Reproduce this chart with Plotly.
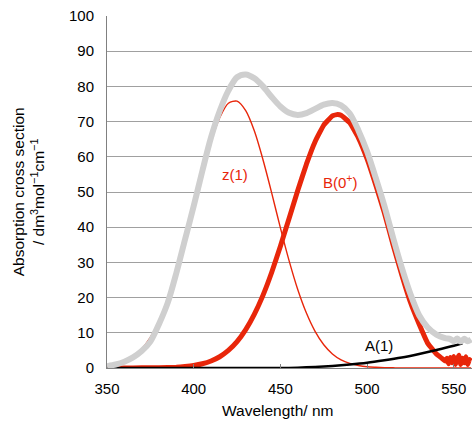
import plotly.graph_objects as go

# ---- data ----
z_wl = [350, 355, 360, 365, 370, 375, 380, 385, 390, 395, 400, 405, 410, 415, 420, 425,
        430, 435, 440, 445, 450, 455, 460, 465, 470, 475, 480, 485, 490, 495, 500, 505,
        510, 515, 520, 560]
z_val = [0.5, 1.0, 1.9, 3.3, 5.4, 8.7, 13.3, 19.4, 27.1, 36.0, 45.7, 55.5, 64.3, 71.1, 75.2, 75.8,
         73.1, 67.3, 59.1, 49.7, 39.8, 30.5, 22.3, 15.6, 10.4, 6.6, 4.0, 2.3, 1.3, 0.7, 0.35, 0.2,
         0.1, 0.05, 0, 0]

b_wl = [350, 360, 370, 380, 390, 395, 400, 405, 410, 415, 420, 425, 430, 435, 440, 445,
        450, 455, 460, 465, 470, 475, 480, 483, 485, 490, 495, 500, 505, 510, 515, 520,
        525, 530, 535, 540, 543, 545, 546, 547, 548, 549, 550, 551, 552, 553, 554, 555,
        556, 557, 558, 559, 560]
b_val = [0, 0, 0.05, 0.1, 0.2, 0.4, 0.7, 1.2, 2.0, 3.2, 5.0, 7.5, 10.9, 15.3, 20.7, 27.2,
         34.6, 42.5, 50.4, 57.9, 64.3, 69.0, 71.6, 72.0, 71.8, 69.7, 65.4, 59.4, 52.0, 44.0, 35.0, 26.5,
         18.7, 12.5, 7.0, 4.0, 2.8, 2.0, 2.8, 1.2, 3.0, 1.5, 3.3, 1.0, 2.5, 3.6, 1.0, 2.8,
         1.5, 3.2, 1.0, 2.4, 2.0]

a_wl = [350, 400, 450, 460, 470, 480, 490, 500, 510, 520, 530, 540, 550, 555]
a_val = [0, 0, 0, 0.1, 0.3, 0.6, 1.0, 1.5, 2.2, 3.0, 4.0, 5.1, 6.3, 7.0]

g_wl = [350, 355, 360, 365, 370, 375, 380, 385, 390, 395, 400, 405, 410, 415, 420, 425,
        430, 435, 440, 445, 450, 455, 460, 465, 470, 475, 480, 485, 490, 495,
        500, 505, 510, 515, 520, 525, 530, 535, 540, 545, 548, 550, 552, 554,
        556, 558, 560]
g_val = [0.5, 1.0, 1.8, 3.0, 4.8, 7.5, 12.5, 18.5, 27, 36.5, 46, 56, 65.5, 73, 78.8, 82.6,
         83.4, 82.3, 80.0, 77.0, 74.3, 72.5, 71.9, 72.4, 73.6, 74.8, 75.3, 74.6, 72.3, 67.5,
         61.5, 54, 46, 37, 28.5, 21, 15, 11.5, 9.5, 8.5, 8.2, 7.6, 8.4, 7.5,
         8.3, 7.6, 8.1]

x_ticks = [350, 400, 450, 500, 550]
y_ticks = [0, 10, 20, 30, 40, 50, 60, 70, 80, 90, 100]

labels = [("z(1)", 423.8, 55.1, "#e8260a"),
          ("B(0<sup>+</sup>)", 484.4, 53.1, "#e8260a"),
          ("A(1)", 506.6, 6.5, "#000000")]

RED = "#e8260a"
GRAY = "#cfcfcf"
FONT = "Arial, Liberation Sans, sans-serif"

fig = go.Figure()
fig.add_trace(go.Scatter(x=z_wl, y=z_val, mode="lines",
                         line=dict(color=RED, width=1.4, shape="spline", smoothing=0.8)))
fig.add_trace(go.Scatter(x=b_wl, y=b_val, mode="lines",
                         line=dict(color=RED, width=5, shape="spline", smoothing=0.3)))
fig.add_trace(go.Scatter(x=a_wl, y=a_val, mode="lines",
                         line=dict(color="#000000", width=2.5, shape="spline", smoothing=0.8)))
fig.add_trace(go.Scatter(x=g_wl, y=g_val, mode="lines",
                         line=dict(color=GRAY, width=6, shape="spline", smoothing=0.8)))

for txt, x, y, c in labels:
    fig.add_annotation(x=x, y=y, text=txt, showarrow=False,
                       font=dict(family=FONT, size=15, color=c))

fig.add_annotation(xref="paper", yref="paper", x=-0.272, y=0.5,
                   text="Absorption cross section<br>/ dm<sup>3</sup>mol<sup>−1</sup>cm<sup>−1</sup>",
                   textangle=-90, showarrow=False, align="center",
                   font=dict(family=FONT, size=15.5, color="#000000"))
fig.add_annotation(xref="paper", yref="paper", x=0.468, y=-0.122,
                   text="Wavelength/ nm", showarrow=False, yanchor="middle",
                   font=dict(family=FONT, size=15.5, color="#000000"))

fig.update_layout(
    width=472, height=423,
    margin=dict(l=107, r=0, t=16, b=55),
    paper_bgcolor="white", plot_bgcolor="white",
    showlegend=False,
    font=dict(family=FONT, size=15, color="#000000"),
)
fig.update_xaxes(range=[350, 560.5], tickvals=x_ticks, showgrid=False,
                 showline=True, linecolor="#808080", linewidth=1,
                 ticks="inside", ticklen=4, tickcolor="#808080",
                 ticklabelstandoff=7, tickfont=dict(size=15), zeroline=False)
fig.update_yaxes(range=[0, 100], tickvals=y_ticks, showgrid=True,
                 gridcolor="#a0a0a0", gridwidth=1,
                 showline=True, linecolor="#808080", linewidth=1,
                 ticks="", ticklabelstandoff=9, tickfont=dict(size=15), zeroline=False)

fig.write_html("out.html")
